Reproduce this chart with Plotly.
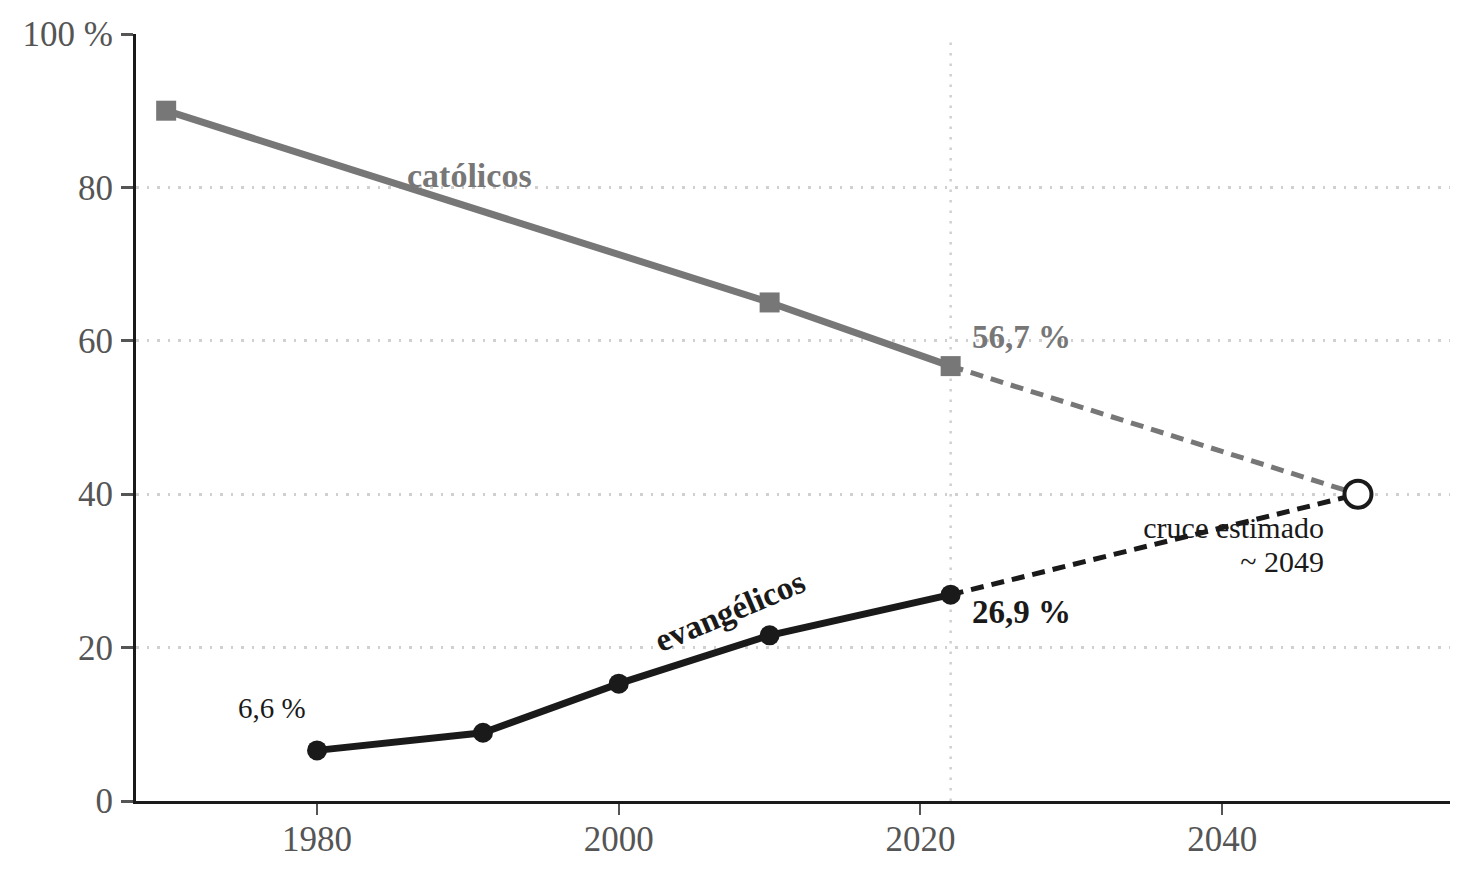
import plotly.graph_objects as go

# ---- data ----
cat_years = [1970, 2010, 2022]
cat_vals = [90.0, 65.0, 56.7]
evan_years = [1980, 1991, 2000, 2010, 2022]
evan_vals = [6.6, 8.9, 15.3, 21.6, 26.9]
cross_year = [2049]
cross_val = [40.0]
x_ticks = [1980, 2000, 2020, 2040]
y_ticks = [0, 20, 40, 60, 80, 100]
y_ticklabels = ["0", "20", "40", "60", "80", "100 %"]

GRAY = "#777777"
DARK = "#1a1a1a"
FONT = "Liberation Serif"

fig = go.Figure()

# text behind dashed line
fig.add_trace(go.Scatter(
    x=[2046.75, 2046.75], y=[35.3, 30.9], mode="text",
    text=["cruce estimado", "~ 2049"], textposition="middle left",
    textfont=dict(family=FONT, size=30, color=DARK),
    hoverinfo="skip", showlegend=False))

# projections
fig.add_trace(go.Scatter(
    x=[cat_years[-1], cross_year[0]], y=[cat_vals[-1], cross_val[0]],
    mode="lines", line=dict(color=GRAY, width=5, dash="13px,8px"),
    showlegend=False, hoverinfo="skip"))
fig.add_trace(go.Scatter(
    x=[evan_years[-1], cross_year[0]], y=[evan_vals[-1], cross_val[0]],
    mode="lines", line=dict(color=DARK, width=5, dash="13px,8px"),
    showlegend=False, hoverinfo="skip"))

# main series
fig.add_trace(go.Scatter(
    x=cat_years, y=cat_vals, mode="lines+markers",
    line=dict(color=GRAY, width=7),
    marker=dict(symbol="square", size=20, color=GRAY),
    showlegend=False))
fig.add_trace(go.Scatter(
    x=evan_years, y=evan_vals, mode="lines+markers",
    line=dict(color=DARK, width=7),
    marker=dict(symbol="circle", size=20, color=DARK),
    showlegend=False))

# crossing point
fig.add_trace(go.Scatter(
    x=cross_year, y=cross_val, mode="markers",
    marker=dict(symbol="circle", size=27, color="white",
                line=dict(color=DARK, width=4)),
    showlegend=False))

# vertical dotted line at last census
fig.add_shape(type="line", x0=cat_years[-1], x1=cat_years[-1], y0=0, y1=99,
              xref="x", yref="y", layer="below",
              line=dict(color="#d0d0d0", width=2.5, dash="2.5px,8px"))

# annotations
fig.add_annotation(x=1990.1, y=81.5, text="<b>católicos</b>", showarrow=False,
                   font=dict(family=FONT, size=34, color=GRAY))
fig.add_annotation(x=2007.4, y=24.8, text="<b>evangélicos</b>", showarrow=False,
                   textangle=-23, font=dict(family=FONT, size=33, color=DARK))
fig.add_annotation(x=cat_years[-1] + 1.3, y=60.5, text=f"<b>{cat_vals[-1]:.1f} %</b>".replace(".", ","),
                   showarrow=False, xanchor="left",
                   font=dict(family=FONT, size=33, color=GRAY))
fig.add_annotation(x=evan_years[-1] + 1.3, y=24.6, text=f"<b>{evan_vals[-1]:.1f} %</b>".replace(".", ","),
                   showarrow=False, xanchor="left",
                   font=dict(family=FONT, size=33, color=DARK))
fig.add_annotation(x=1977.0, y=12.1, text=f"{evan_vals[0]:.1f} %".replace(".", ","),
                   showarrow=False,
                   font=dict(family=FONT, size=29, color=DARK))

fig.update_layout(
    width=1472, height=878,
    margin=dict(l=136, r=22, t=34, b=77),
    plot_bgcolor="white", paper_bgcolor="white",
    font=dict(family=FONT, size=35, color="#555555"),
    xaxis=dict(range=[1968, 2055.1], tickvals=x_ticks, showgrid=False,
               zeroline=False, showline=True, linecolor=DARK, linewidth=3,
               ticks="outside", ticklen=11, tickwidth=2, tickcolor="#555555",
               ticklabelstandoff=-6,
               tickfont=dict(family=FONT, size=35, color="#555555")),
    yaxis=dict(range=[0, 100], tickvals=y_ticks, ticktext=y_ticklabels,
               showgrid=True, gridcolor="#d0d0d0", griddash="2.5px,8px", gridwidth=2.5,
               zeroline=False, showline=True, linecolor=DARK, linewidth=3,
               ticks="outside", ticklen=12, tickwidth=3, tickcolor="#555555",
               ticklabelstandoff=1,
               tickfont=dict(family=FONT, size=35, color="#555555")),
)

fig.write_html("out.html")
